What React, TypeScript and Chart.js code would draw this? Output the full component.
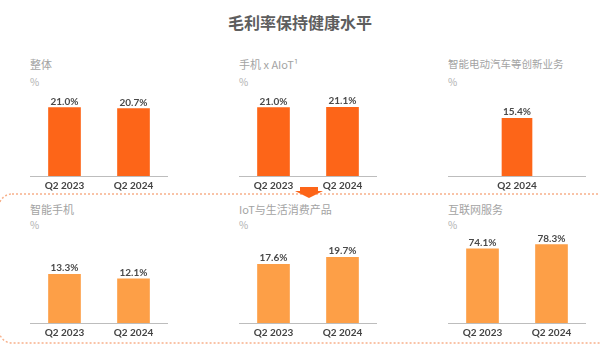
import React, { useEffect, useRef } from 'react';
import { Chart, registerables } from 'chart.js';

Chart.register(...registerables);

// ---------- data ----------
const mainTitle = '毛利率保持健康水平';
const twoQuarters = ['Q2 2023', 'Q2 2024'];
const evQuarters = ['Q2 2024'];

const overallValues = [21.0, 20.7];
const phoneAiotValues = [21.0, 21.1];
const evValues = [15.4];
const smartphoneValues = [13.3, 12.1];
const iotValues = [17.6, 19.7];
const internetValues = [74.1, 78.3];

const panelTitles = ['整体', '手机 x AIoT¹', '智能电动汽车等创新业务', '智能手机', 'IoT与生活消费产品', '互联网服务'];
const unitLabel = '%';

// ---------- style ----------
const FONT = "Lato, 'Noto Sans CJK SC', sans-serif";
const CJK = "'Noto Sans CJK SC', Lato, sans-serif";
const TOP_COLOR = '#fd6518';
const BOTTOM_COLOR = '#fd9f47';

const valueLabelPlugin = {
  id: 'valueLabels',
  afterDatasetsDraw(chart: any) {
    const ctx = chart.ctx;
    chart.data.datasets.forEach((ds: any, i: number) => {
      const meta = chart.getDatasetMeta(i);
      meta.data.forEach((bar: any, j: number) => {
        const v = ds.data[j] as number;
        ctx.save();
        ctx.font = `bold 10px ${FONT}`;
        ctx.fillStyle = '#4a4a4a';
        ctx.textAlign = 'center';
        ctx.textBaseline = 'alphabetic';
        ctx.fillText(`${v.toFixed(1)}%`, bar.x, bar.y - 3);
        ctx.restore();
      });
    });
  },
};

type PanelProps = {
  labels: string[];
  values: number[];
  color: string;
  max: number;
  left: number;
  top: number;
  width: number;
  height: number;
  thickness: number;
};

function BarPanel(p: PanelProps) {
  const ref = useRef<HTMLCanvasElement | null>(null);
  useEffect(() => {
    if (!ref.current) return;
    const chart = new Chart(ref.current, {
      type: 'bar',
      data: {
        labels: p.labels,
        datasets: [
          {
            data: p.values,
            backgroundColor: p.color,
            barThickness: p.thickness,
            borderWidth: 0,
          },
        ],
      },
      options: {
        responsive: false,
        animation: false,
        devicePixelRatio: 1,
        layout: { padding: 0 },
        plugins: { legend: { display: false }, tooltip: { enabled: false } },
        scales: {
          x: {
            grid: { display: false, drawTicks: false },
            border: { color: '#bdbdbd', width: 1 },
            ticks: {
              color: '#444',
              padding: 4,
              maxRotation: 0,
              autoSkip: false,
              font: { family: FONT, size: 10, weight: 'bold' },
            },
          },
          y: { display: false, min: 0, max: p.max },
        },
      },
      plugins: [valueLabelPlugin],
    });
    return () => chart.destroy();
  }, []);
  return (
    <canvas
      ref={ref}
      width={p.width}
      height={p.height}
      style={{ position: 'absolute', left: p.left, top: p.top, width: p.width, height: p.height }}
    />
  );
}

function Label({ text, left, top, size, color }: { text: string; left: number; top: number; size: number; color: string }) {
  return (
    <div
      style={{
        position: 'absolute',
        left,
        top,
        fontSize: size,
        color,
        fontFamily: CJK,
        whiteSpace: 'nowrap',
        lineHeight: 1,
      }}
    >
      {text}
    </div>
  );
}

export default function App() {
  const cols = [30, 239, 448];
  const rowTop = [88, 228];
  const rowH = [108, 115];
  const W = 138;
  return (
    <div
      style={{
        position: 'fixed',
        left: 0,
        top: 0,
        width: 600,
        height: 355,
        background: '#fff',
        overflow: 'hidden',
      }}
    >
      <div
        style={{
          position: 'absolute',
          left: 0,
          top: 13,
          width: 600,
          textAlign: 'center',
          fontFamily: CJK,
          fontSize: 16,
          fontWeight: 'bold',
          color: '#5e5e5e',
          lineHeight: 1.2,
        }}
      >
        {mainTitle}
      </div>

      <svg width={600} height={355} style={{ position: 'absolute', left: 0, top: 0 }}>
        <rect x={-1} y={194} width={640} height={149} rx={13} ry={13} fill="none" stroke="#f7b08a" strokeWidth={1.4} strokeDasharray="2 2" />
        <polygon points="300,187 318,187 318,191 323,191 309,198 295,191 300,191" fill={TOP_COLOR} />
      </svg>

      {/* top row titles */}
      <Label text={panelTitles[0]} left={cols[0]} top={59} size={11} color="#a3a3a3" />
      <Label text={panelTitles[1]} left={cols[1]} top={59} size={11} color="#a3a3a3" />
      <Label text={panelTitles[2]} left={cols[2]} top={59} size={10.5} color="#a3a3a3" />
      <Label text={unitLabel} left={cols[0]} top={77} size={10} color="#b0b0b0" />
      <Label text={unitLabel} left={cols[1]} top={77} size={10} color="#b0b0b0" />
      <Label text={unitLabel} left={cols[2]} top={77} size={10} color="#b0b0b0" />

      {/* bottom row titles */}
      <Label text={panelTitles[3]} left={cols[0]} top={204} size={11} color="#a3a3a3" />
      <Label text={panelTitles[4]} left={cols[1]} top={204} size={11} color="#a3a3a3" />
      <Label text={panelTitles[5]} left={cols[2]} top={204} size={11} color="#a3a3a3" />
      <Label text={unitLabel} left={cols[0]} top={220} size={10} color="#b0b0b0" />
      <Label text={unitLabel} left={cols[1]} top={220} size={10} color="#b0b0b0" />
      <Label text={unitLabel} left={cols[2]} top={220} size={10} color="#b0b0b0" />

      <BarPanel labels={twoQuarters} values={overallValues} color={TOP_COLOR} max={27} left={cols[0]} top={rowTop[0]} width={W} height={rowH[0]} thickness={32} />
      <BarPanel labels={twoQuarters} values={phoneAiotValues} color={TOP_COLOR} max={27} left={cols[1]} top={rowTop[0]} width={W} height={rowH[0]} thickness={32} />
      <BarPanel labels={evQuarters} values={evValues} color={TOP_COLOR} max={23.5} left={cols[2]} top={rowTop[0]} width={W} height={rowH[0]} thickness={30} />

      <BarPanel labels={twoQuarters} values={smartphoneValues} color={BOTTOM_COLOR} max={26} left={cols[0]} top={rowTop[1]} width={W} height={rowH[1]} thickness={32} />
      <BarPanel labels={twoQuarters} values={iotValues} color={BOTTOM_COLOR} max={28.5} left={cols[1]} top={rowTop[1]} width={W} height={rowH[1]} thickness={32} />
      <BarPanel labels={twoQuarters} values={internetValues} color={BOTTOM_COLOR} max={95} left={cols[2]} top={rowTop[1]} width={W} height={rowH[1]} thickness={32} />
    </div>
  );
}
